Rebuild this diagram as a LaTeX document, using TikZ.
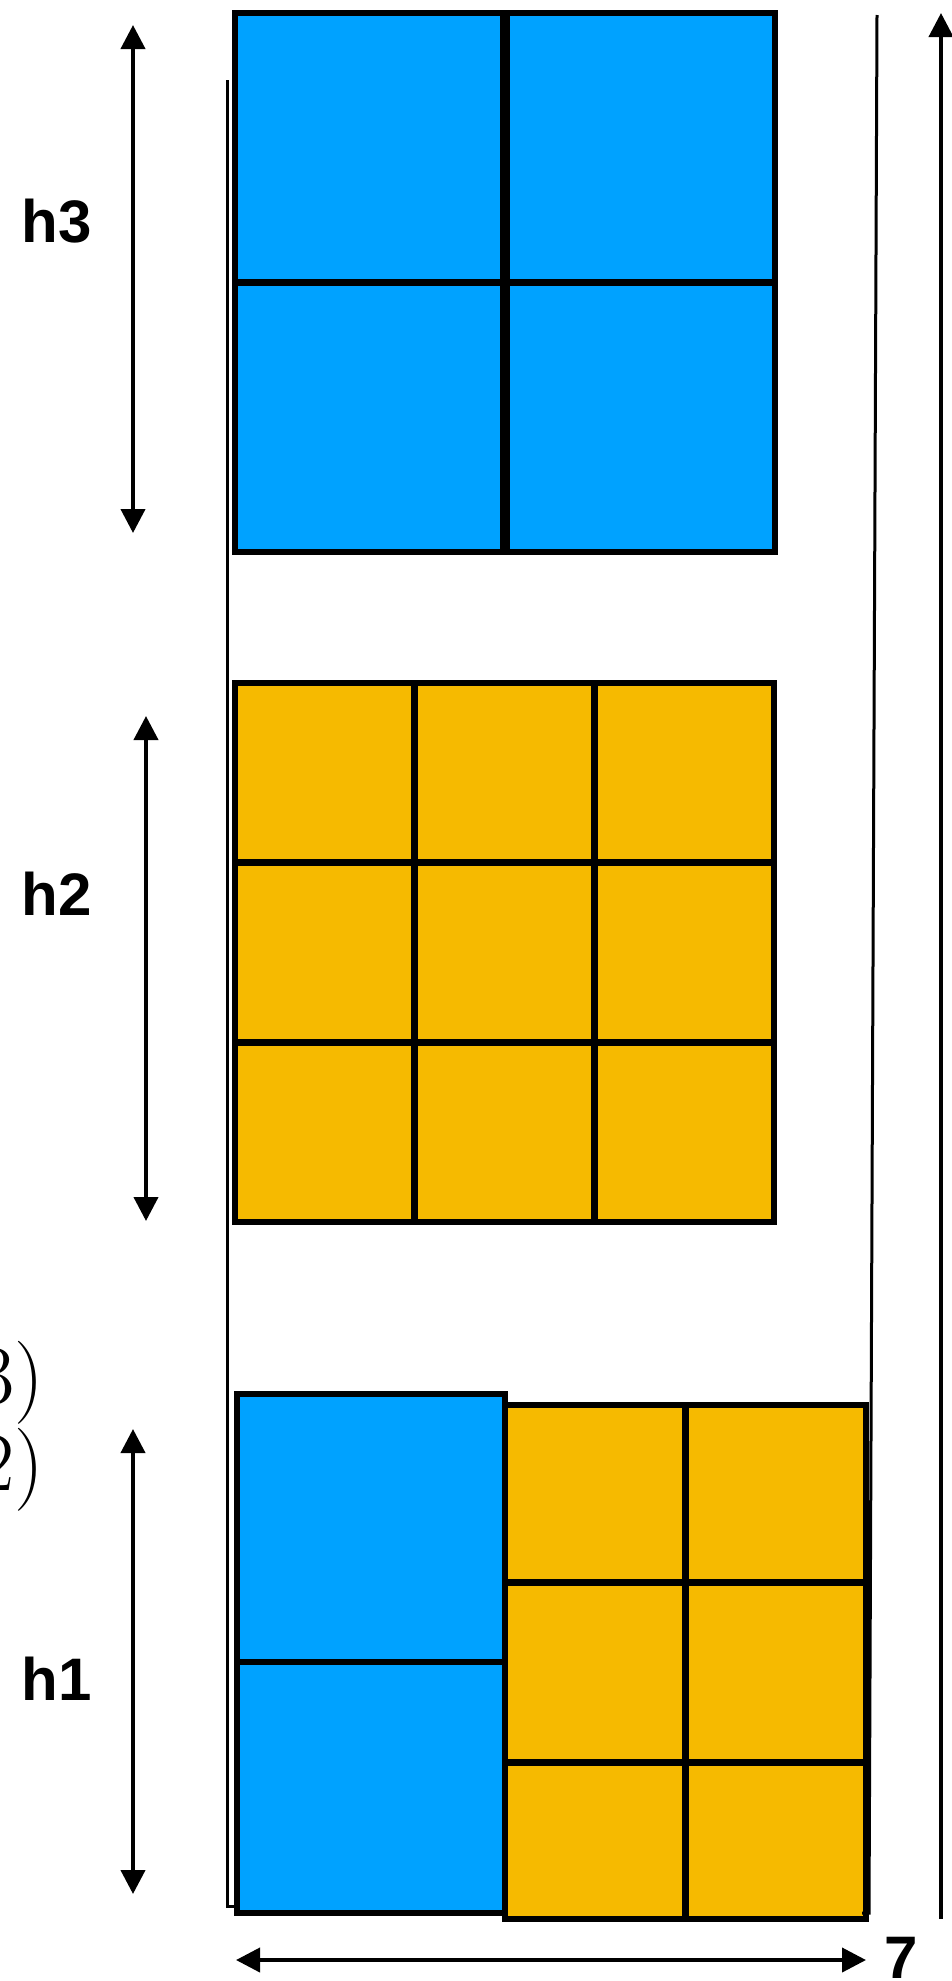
\documentclass[tikz,border=0pt]{standalone}
\usepackage{fontspec}
\newfontfamily\labelfont{Liberation Sans}
\usetikzlibrary{arrows.meta}

\definecolor{kotakbiru}{RGB}{0,162,255}
\definecolor{kotakkuning}{RGB}{246,186,0}

\begin{document}
\begin{tikzpicture}[
            x=1pt,
            y=-1pt,
            every node/.style={inner sep=0pt},
            birucell/.style={
                    draw,
                    fill=kotakbiru,
                    line width=5.5pt
                },
            kuningcell/.style={
                    draw,
                    fill=kotakkuning,
                    line width=5.5pt
                },
            tepi/.style={
                    line width=3pt
                },
            hlabel/.style={
                    font=\labelfont\bfseries\fontsize{60}{64}\selectfont
                },
            rumus/.style={
                    anchor=base east,
                    font=\fontsize{83}{90}\selectfont
                },
            arrow/.style={
            {Triangle[length=24pt,width=24pt]}-{Triangle[length=24pt,width=24pt]},
            line width=4pt
            },
            uparrow/.style={
            -{Triangle[length=24pt,width=24pt]},
            line width=4pt
            }
            ]

            \clip (0,0) rectangle (952,1981);

            % Blok atas (biru 2x2)
            \foreach \i in {0,1}
                \foreach \j in {0,1}
                    \draw [birucell] ({235+272*\i},{13+270*\j}) rectangle ++(268,269);

            % Blok tengah (kuning 3x3)
            \foreach \i in {0,1,2}
                \foreach \j in {0,1,2}
                    \draw [kuningcell] ({235+180*\i},{683+180*\j}) rectangle ++(179,179);

            % Blok bawah
            \draw [birucell] (237,1394) rectangle (505,1662);
            \draw [birucell] (237,1662) rectangle (505,1913);
            \foreach \i in {0,1} {
                \draw [kuningcell] ({505+181*\i},1405) rectangle ++(180,177);
                \draw [kuningcell] ({505+181*\i},1583) rectangle ++(180,179);
                \draw [kuningcell] ({505+181*\i},1763) rectangle ++(180,156);
            }

            % Garis tepi
            \draw [tepi] (227,80) -- (227,1906) -- (237,1906);
            \draw [tepi] (877,15) -- (869,1913) -- (862,1913);

            % Titik ujung panah
            \coordinate (h3atas) at (133,25);
            \coordinate (h3bawah) at (133,533);
            \coordinate (h2atas) at (146,716);
            \coordinate (h2bawah) at (146,1221);
            \coordinate (h1atas) at (133,1429);
            \coordinate (h1bawah) at (133,1894);
            \coordinate (lebarkiri) at (236,1960);
            \coordinate (lebarkanan) at (866,1960);
            \coordinate (tinggibawah) at (941,1919);
            \coordinate (tinggiatas) at (941,13);

            % Label
            \node (h3) [hlabel] at (57,221) {h3};
            \node (h2) [hlabel] at (57,894) {h2};
            \node (h1) [hlabel] at (57,1679) {h1};
            \node (lebar) [hlabel, anchor=base] at (901,1978) {7};

            \node (teks3) [rumus] at (44,1403) {3)};
            \node (teks2) [rumus] at (44,1490) {2)};

            % Garis panah
            \draw [arrow] (h3atas) -- (h3bawah);
            \draw [arrow] (h2atas) -- (h2bawah);
            \draw [arrow] (h1atas) -- (h1bawah);
            \draw [arrow] (lebarkiri) -- (lebarkanan);
            \draw [uparrow] (tinggibawah) -- (tinggiatas);

        \end{tikzpicture}
\end{document}
